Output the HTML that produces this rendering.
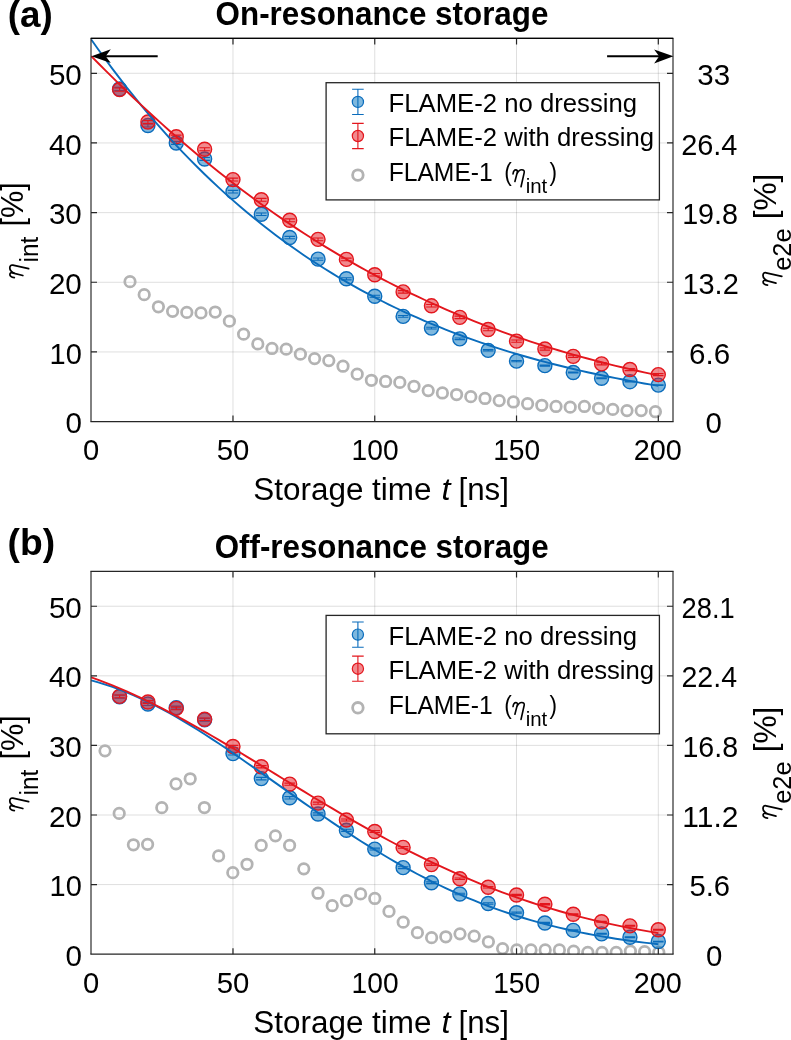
<!DOCTYPE html>
<html><head><meta charset="utf-8"><title>FLAME storage efficiency</title><style>html,body{margin:0;padding:0;background:#fff;width:791px;height:1040px;overflow:hidden}svg{display:block;will-change:transform}</style></head><body>
<svg width="791" height="1040" viewBox="0 0 791 1040" font-family="Liberation Sans" fill="#000">
<defs><clipPath id="ca"><rect x="91" y="38.45" width="582" height="383.15"/></clipPath></defs>
<path d="M232.98 38.45V421.6M374.75 38.45V421.6M516.53 38.45V421.6M658.3 38.45V421.6M91 351.94H673M91 282.27H673M91 212.61H673M91 142.95H673M91 73.28H673" stroke="rgba(38,38,38,0.15)" stroke-width="1" fill="none"/><g clip-path="url(#ca)"><circle cx="130" cy="281.65" r="5.25" fill="none" stroke="#b3b3b3" stroke-width="2.75"/><circle cx="144.2" cy="294.67" r="5.25" fill="none" stroke="#b3b3b3" stroke-width="2.75"/><circle cx="158.4" cy="306.79" r="5.25" fill="none" stroke="#b3b3b3" stroke-width="2.75"/><circle cx="172.6" cy="311.32" r="5.25" fill="none" stroke="#b3b3b3" stroke-width="2.75"/><circle cx="186.8" cy="312.44" r="5.25" fill="none" stroke="#b3b3b3" stroke-width="2.75"/><circle cx="201" cy="312.92" r="5.25" fill="none" stroke="#b3b3b3" stroke-width="2.75"/><circle cx="215.2" cy="312.02" r="5.25" fill="none" stroke="#b3b3b3" stroke-width="2.75"/><circle cx="229.4" cy="321.15" r="5.25" fill="none" stroke="#b3b3b3" stroke-width="2.75"/><circle cx="243.6" cy="334.17" r="5.25" fill="none" stroke="#b3b3b3" stroke-width="2.75"/><circle cx="257.8" cy="343.93" r="5.25" fill="none" stroke="#b3b3b3" stroke-width="2.75"/><circle cx="272" cy="348.45" r="5.25" fill="none" stroke="#b3b3b3" stroke-width="2.75"/><circle cx="286.2" cy="349.15" r="5.25" fill="none" stroke="#b3b3b3" stroke-width="2.75"/><circle cx="300.4" cy="354.17" r="5.25" fill="none" stroke="#b3b3b3" stroke-width="2.75"/><circle cx="314.6" cy="358.62" r="5.25" fill="none" stroke="#b3b3b3" stroke-width="2.75"/><circle cx="328.8" cy="360.57" r="5.25" fill="none" stroke="#b3b3b3" stroke-width="2.75"/><circle cx="343" cy="366.22" r="5.25" fill="none" stroke="#b3b3b3" stroke-width="2.75"/><circle cx="357.2" cy="374.16" r="5.25" fill="none" stroke="#b3b3b3" stroke-width="2.75"/><circle cx="371.4" cy="380.29" r="5.25" fill="none" stroke="#b3b3b3" stroke-width="2.75"/><circle cx="385.6" cy="381.47" r="5.25" fill="none" stroke="#b3b3b3" stroke-width="2.75"/><circle cx="399.8" cy="382.38" r="5.25" fill="none" stroke="#b3b3b3" stroke-width="2.75"/><circle cx="414" cy="386.28" r="5.25" fill="none" stroke="#b3b3b3" stroke-width="2.75"/><circle cx="428.2" cy="390.6" r="5.25" fill="none" stroke="#b3b3b3" stroke-width="2.75"/><circle cx="442.4" cy="392.97" r="5.25" fill="none" stroke="#b3b3b3" stroke-width="2.75"/><circle cx="456.6" cy="394.5" r="5.25" fill="none" stroke="#b3b3b3" stroke-width="2.75"/><circle cx="470.8" cy="396.66" r="5.25" fill="none" stroke="#b3b3b3" stroke-width="2.75"/><circle cx="485" cy="398.47" r="5.25" fill="none" stroke="#b3b3b3" stroke-width="2.75"/><circle cx="499.2" cy="400.56" r="5.25" fill="none" stroke="#b3b3b3" stroke-width="2.75"/><circle cx="513.4" cy="401.95" r="5.25" fill="none" stroke="#b3b3b3" stroke-width="2.75"/><circle cx="527.6" cy="403.7" r="5.25" fill="none" stroke="#b3b3b3" stroke-width="2.75"/><circle cx="541.8" cy="405.3" r="5.25" fill="none" stroke="#b3b3b3" stroke-width="2.75"/><circle cx="556" cy="406.48" r="5.25" fill="none" stroke="#b3b3b3" stroke-width="2.75"/><circle cx="570.2" cy="407.18" r="5.25" fill="none" stroke="#b3b3b3" stroke-width="2.75"/><circle cx="584.4" cy="406.48" r="5.25" fill="none" stroke="#b3b3b3" stroke-width="2.75"/><circle cx="598.6" cy="408.29" r="5.25" fill="none" stroke="#b3b3b3" stroke-width="2.75"/><circle cx="612.8" cy="409.41" r="5.25" fill="none" stroke="#b3b3b3" stroke-width="2.75"/><circle cx="627" cy="410.59" r="5.25" fill="none" stroke="#b3b3b3" stroke-width="2.75"/><circle cx="641.2" cy="410.59" r="5.25" fill="none" stroke="#b3b3b3" stroke-width="2.75"/><circle cx="655.4" cy="411.71" r="5.25" fill="none" stroke="#b3b3b3" stroke-width="2.75"/><circle cx="119.56" cy="88.96" r="7" fill="rgba(0,114,189,0.5)" stroke="#0a6cbc" stroke-width="1.4"/><path d="M114.26 87.36H124.86M114.26 90.56H124.86M119.56 87.36V90.56" stroke="#0a6cbc" stroke-width="1.1" fill="none"/><circle cx="147.91" cy="125.53" r="7" fill="rgba(0,114,189,0.5)" stroke="#0a6cbc" stroke-width="1.4"/><path d="M142.61 124H153.21M142.61 127.06H153.21M147.91 124V127.06" stroke="#0a6cbc" stroke-width="1.1" fill="none"/><circle cx="176.26" cy="142.95" r="7" fill="rgba(0,114,189,0.5)" stroke="#0a6cbc" stroke-width="1.4"/><path d="M170.96 141.48H181.56M170.96 144.41H181.56M176.26 141.48V144.41" stroke="#0a6cbc" stroke-width="1.1" fill="none"/><circle cx="204.62" cy="158.97" r="7" fill="rgba(0,114,189,0.5)" stroke="#0a6cbc" stroke-width="1.4"/><path d="M199.32 157.57H209.92M199.32 160.36H209.92M204.62 157.57V160.36" stroke="#0a6cbc" stroke-width="1.1" fill="none"/><circle cx="232.98" cy="191.71" r="7" fill="rgba(0,114,189,0.5)" stroke="#0a6cbc" stroke-width="1.4"/><path d="M227.68 190.38H238.28M227.68 193.04H238.28M232.98 190.38V193.04" stroke="#0a6cbc" stroke-width="1.1" fill="none"/><circle cx="261.33" cy="214.21" r="7" fill="rgba(0,114,189,0.5)" stroke="#0a6cbc" stroke-width="1.4"/><path d="M256.03 212.95H266.63M256.03 215.47H266.63M261.33 212.95V215.47" stroke="#0a6cbc" stroke-width="1.1" fill="none"/><circle cx="289.69" cy="237.55" r="7" fill="rgba(0,114,189,0.5)" stroke="#0a6cbc" stroke-width="1.4"/><path d="M284.38 236.36H294.99M284.38 238.74H294.99M289.69 236.36V238.74" stroke="#0a6cbc" stroke-width="1.1" fill="none"/><circle cx="318.04" cy="259.14" r="7" fill="rgba(0,114,189,0.5)" stroke="#0a6cbc" stroke-width="1.4"/><path d="M312.74 258.02H323.34M312.74 260.27H323.34M318.04 258.02V260.27" stroke="#0a6cbc" stroke-width="1.1" fill="none"/><circle cx="346.4" cy="278.79" r="7" fill="rgba(0,114,189,0.5)" stroke="#0a6cbc" stroke-width="1.4"/><path d="M341.1 277.74H351.7M341.1 279.84H351.7M346.4 277.74V279.84" stroke="#0a6cbc" stroke-width="1.1" fill="none"/><circle cx="374.75" cy="296.28" r="7" fill="rgba(0,114,189,0.5)" stroke="#0a6cbc" stroke-width="1.4"/><path d="M369.45 295.29H380.05M369.45 297.26H380.05M374.75 295.29V297.26" stroke="#0a6cbc" stroke-width="1.1" fill="none"/><circle cx="403.11" cy="316.41" r="7" fill="rgba(0,114,189,0.5)" stroke="#0a6cbc" stroke-width="1.4"/><path d="M397.81 315.49H408.41M397.81 317.32H408.41M403.11 315.49V317.32" stroke="#0a6cbc" stroke-width="1.1" fill="none"/><circle cx="431.46" cy="328.11" r="7" fill="rgba(0,114,189,0.5)" stroke="#0a6cbc" stroke-width="1.4"/><path d="M426.16 327.26H436.76M426.16 328.96H436.76M431.46 327.26V328.96" stroke="#0a6cbc" stroke-width="1.1" fill="none"/><circle cx="459.81" cy="338.84" r="7" fill="rgba(0,114,189,0.5)" stroke="#0a6cbc" stroke-width="1.4"/><path d="M454.51 338.06H465.12M454.51 339.62H465.12M459.81 338.06V339.62" stroke="#0a6cbc" stroke-width="1.1" fill="none"/><circle cx="488.17" cy="350.33" r="7" fill="rgba(0,114,189,0.5)" stroke="#0a6cbc" stroke-width="1.4"/><path d="M482.87 349.62H493.47M482.87 351.04H493.47M488.17 349.62V351.04" stroke="#0a6cbc" stroke-width="1.1" fill="none"/><circle cx="516.53" cy="361.13" r="7" fill="rgba(0,114,189,0.5)" stroke="#0a6cbc" stroke-width="1.4"/><path d="M511.23 360.49H521.83M511.23 361.77H521.83M516.53 360.49V361.77" stroke="#0a6cbc" stroke-width="1.1" fill="none"/><circle cx="544.88" cy="365.66" r="7" fill="rgba(0,114,189,0.5)" stroke="#0a6cbc" stroke-width="1.4"/><path d="M539.58 365.09H550.18M539.58 366.23H550.18M544.88 365.09V366.23" stroke="#0a6cbc" stroke-width="1.1" fill="none"/><circle cx="573.24" cy="372.56" r="7" fill="rgba(0,114,189,0.5)" stroke="#0a6cbc" stroke-width="1.4"/><path d="M567.94 372.05H578.53M567.94 373.06H578.53M573.24 372.05V373.06" stroke="#0a6cbc" stroke-width="1.1" fill="none"/><circle cx="601.59" cy="378.27" r="7" fill="rgba(0,114,189,0.5)" stroke="#0a6cbc" stroke-width="1.4"/><path d="M596.29 377.83H606.89M596.29 378.71H606.89M601.59 377.83V378.71" stroke="#0a6cbc" stroke-width="1.1" fill="none"/><circle cx="629.95" cy="381.68" r="7" fill="rgba(0,114,189,0.5)" stroke="#0a6cbc" stroke-width="1.4"/><path d="M624.65 381.31H635.25M624.65 382.05H635.25M629.95 381.31V382.05" stroke="#0a6cbc" stroke-width="1.1" fill="none"/><circle cx="658.3" cy="385.1" r="7" fill="rgba(0,114,189,0.5)" stroke="#0a6cbc" stroke-width="1.4"/><path d="M653 384.8H663.6M653 385.4H663.6M658.3 384.8V385.4" stroke="#0a6cbc" stroke-width="1.1" fill="none"/><circle cx="119.56" cy="89.58" r="7" fill="rgba(227,22,29,0.5)" stroke="#e3161d" stroke-width="1.4"/><path d="M114.26 87.98H124.86M114.26 91.18H124.86M119.56 87.98V91.18" stroke="#e3161d" stroke-width="1.1" fill="none"/><circle cx="147.91" cy="122.05" r="7" fill="rgba(227,22,29,0.5)" stroke="#e3161d" stroke-width="1.4"/><path d="M142.61 120.48H153.21M142.61 123.61H153.21M147.91 120.48V123.61" stroke="#e3161d" stroke-width="1.1" fill="none"/><circle cx="176.26" cy="136.68" r="7" fill="rgba(227,22,29,0.5)" stroke="#e3161d" stroke-width="1.4"/><path d="M170.96 135.14H181.56M170.96 138.21H181.56M176.26 135.14V138.21" stroke="#e3161d" stroke-width="1.1" fill="none"/><circle cx="204.62" cy="149.22" r="7" fill="rgba(227,22,29,0.5)" stroke="#e3161d" stroke-width="1.4"/><path d="M199.32 147.71H209.92M199.32 150.72H209.92M204.62 147.71V150.72" stroke="#e3161d" stroke-width="1.1" fill="none"/><circle cx="232.98" cy="179.59" r="7" fill="rgba(227,22,29,0.5)" stroke="#e3161d" stroke-width="1.4"/><path d="M227.68 178.11H238.28M227.68 181.06H238.28M232.98 178.11V181.06" stroke="#e3161d" stroke-width="1.1" fill="none"/><circle cx="261.33" cy="199.79" r="7" fill="rgba(227,22,29,0.5)" stroke="#e3161d" stroke-width="1.4"/><path d="M256.03 198.35H266.63M256.03 201.23H266.63M261.33 198.35V201.23" stroke="#e3161d" stroke-width="1.1" fill="none"/><circle cx="289.69" cy="220.27" r="7" fill="rgba(227,22,29,0.5)" stroke="#e3161d" stroke-width="1.4"/><path d="M284.38 218.86H294.99M284.38 221.68H294.99M289.69 218.86V221.68" stroke="#e3161d" stroke-width="1.1" fill="none"/><circle cx="318.04" cy="239.36" r="7" fill="rgba(227,22,29,0.5)" stroke="#e3161d" stroke-width="1.4"/><path d="M312.74 237.98H323.34M312.74 240.74H323.34M318.04 237.98V240.74" stroke="#e3161d" stroke-width="1.1" fill="none"/><circle cx="346.4" cy="259.42" r="7" fill="rgba(227,22,29,0.5)" stroke="#e3161d" stroke-width="1.4"/><path d="M341.1 258.08H351.7M341.1 260.77H351.7M346.4 258.08V260.77" stroke="#e3161d" stroke-width="1.1" fill="none"/><circle cx="374.75" cy="274.75" r="7" fill="rgba(227,22,29,0.5)" stroke="#e3161d" stroke-width="1.4"/><path d="M369.45 273.43H380.05M369.45 276.06H380.05M374.75 273.43V276.06" stroke="#e3161d" stroke-width="1.1" fill="none"/><circle cx="403.11" cy="291.89" r="7" fill="rgba(227,22,29,0.5)" stroke="#e3161d" stroke-width="1.4"/><path d="M397.81 290.6H408.41M397.81 293.17H408.41M403.11 290.6V293.17" stroke="#e3161d" stroke-width="1.1" fill="none"/><circle cx="431.46" cy="305.82" r="7" fill="rgba(227,22,29,0.5)" stroke="#e3161d" stroke-width="1.4"/><path d="M426.16 304.57H436.76M426.16 307.07H436.76M431.46 304.57V307.07" stroke="#e3161d" stroke-width="1.1" fill="none"/><circle cx="459.81" cy="317.38" r="7" fill="rgba(227,22,29,0.5)" stroke="#e3161d" stroke-width="1.4"/><path d="M454.51 316.16H465.12M454.51 318.6H465.12M459.81 316.16V318.6" stroke="#e3161d" stroke-width="1.1" fill="none"/><circle cx="488.17" cy="329.5" r="7" fill="rgba(227,22,29,0.5)" stroke="#e3161d" stroke-width="1.4"/><path d="M482.87 328.32H493.47M482.87 330.69H493.47M488.17 328.32V330.69" stroke="#e3161d" stroke-width="1.1" fill="none"/><circle cx="516.53" cy="341.14" r="7" fill="rgba(227,22,29,0.5)" stroke="#e3161d" stroke-width="1.4"/><path d="M511.23 339.98H521.83M511.23 342.3H521.83M516.53 339.98V342.3" stroke="#e3161d" stroke-width="1.1" fill="none"/><circle cx="544.88" cy="349.01" r="7" fill="rgba(227,22,29,0.5)" stroke="#e3161d" stroke-width="1.4"/><path d="M539.58 347.88H550.18M539.58 350.14H550.18M544.88 347.88V350.14" stroke="#e3161d" stroke-width="1.1" fill="none"/><circle cx="573.24" cy="356.33" r="7" fill="rgba(227,22,29,0.5)" stroke="#e3161d" stroke-width="1.4"/><path d="M567.94 355.23H578.53M567.94 357.42H578.53M573.24 355.23V357.42" stroke="#e3161d" stroke-width="1.1" fill="none"/><circle cx="601.59" cy="363.85" r="7" fill="rgba(227,22,29,0.5)" stroke="#e3161d" stroke-width="1.4"/><path d="M596.29 362.79H606.89M596.29 364.91H606.89M601.59 362.79V364.91" stroke="#e3161d" stroke-width="1.1" fill="none"/><circle cx="629.95" cy="369.56" r="7" fill="rgba(227,22,29,0.5)" stroke="#e3161d" stroke-width="1.4"/><path d="M624.65 368.53H635.25M624.65 370.59H635.25M629.95 368.53V370.59" stroke="#e3161d" stroke-width="1.1" fill="none"/><circle cx="658.3" cy="374.58" r="7" fill="rgba(227,22,29,0.5)" stroke="#e3161d" stroke-width="1.4"/><path d="M653 373.58H663.6M653 375.58H663.6M658.3 373.58V375.58" stroke="#e3161d" stroke-width="1.1" fill="none"/><path d="M91.2 39.43 L98.29 49.46 L105.38 59.26 L112.47 68.83 L119.56 78.17 L126.64 87.3 L133.73 96.2 L140.82 104.89 L147.91 113.37 L155 121.65 L162.09 129.72 L169.18 137.61 L176.26 145.29 L183.35 152.8 L190.44 160.11 L197.53 167.25 L204.62 174.21 L211.71 181 L218.8 187.62 L225.89 194.08 L232.98 200.38 L240.06 206.51 L247.15 212.5 L254.24 218.33 L261.33 224.01 L268.42 229.55 L275.51 234.95 L282.6 240.21 L289.69 245.34 L296.77 250.33 L303.86 255.19 L310.95 259.93 L318.04 264.55 L325.13 269.05 L332.22 273.42 L339.31 277.69 L346.4 281.84 L353.48 285.88 L360.57 289.82 L367.66 293.65 L374.75 297.38 L381.84 301.01 L388.93 304.54 L396.02 307.98 L403.11 311.32 L410.19 314.58 L417.28 317.74 L424.37 320.82 L431.46 323.82 L438.55 326.73 L445.64 329.57 L452.73 332.33 L459.81 335.01 L466.9 337.61 L473.99 340.15 L481.08 342.61 L488.17 345.01 L495.26 347.33 L502.35 349.6 L509.44 351.8 L516.53 353.93 L523.61 356.01 L530.7 358.03 L537.79 359.99 L544.88 361.89 L551.97 363.74 L559.06 365.54 L566.15 367.29 L573.24 368.98 L580.32 370.63 L587.41 372.23 L594.5 373.78 L601.59 375.28 L608.68 376.75 L615.77 378.17 L622.86 379.54 L629.95 380.88 L637.03 382.18 L644.12 383.44 L651.21 384.66 L658.3 385.85" stroke="#0a6cbc" stroke-width="1.9" fill="none"/><path d="M91.2 56.07 L98.29 63.29 L105.38 70.41 L112.47 77.44 L119.56 84.38 L126.64 91.23 L133.73 97.99 L140.82 104.66 L147.91 111.24 L155 117.73 L162.09 124.12 L169.18 130.43 L176.26 136.64 L183.35 142.77 L190.44 148.8 L197.53 154.74 L204.62 160.6 L211.71 166.36 L218.8 172.03 L225.89 177.61 L232.98 183.11 L240.06 188.51 L247.15 193.83 L254.24 199.06 L261.33 204.2 L268.42 209.26 L275.51 214.22 L282.6 219.11 L289.69 223.9 L296.77 228.62 L303.86 233.24 L310.95 237.79 L318.04 242.25 L325.13 246.63 L332.22 250.93 L339.31 255.15 L346.4 259.29 L353.48 263.34 L360.57 267.33 L367.66 271.23 L374.75 275.05 L381.84 278.81 L388.93 282.48 L396.02 286.08 L403.11 289.61 L410.19 293.06 L417.28 296.45 L424.37 299.76 L431.46 303 L438.55 306.18 L445.64 309.28 L452.73 312.32 L459.81 315.29 L466.9 318.2 L473.99 321.04 L481.08 323.82 L488.17 326.54 L495.26 329.19 L502.35 331.79 L509.44 334.32 L516.53 336.8 L523.61 339.21 L530.7 341.58 L537.79 343.88 L544.88 346.13 L551.97 348.33 L559.06 350.47 L566.15 352.56 L573.24 354.6 L580.32 356.59 L587.41 358.52 L594.5 360.41 L601.59 362.26 L608.68 364.05 L615.77 365.8 L622.86 367.51 L629.95 369.17 L637.03 370.78 L644.12 372.36 L651.21 373.89 L658.3 375.38" stroke="#e3161d" stroke-width="1.9" fill="none"/></g><path d="M232.98 421.6v-6M232.98 38.45v6M374.75 421.6v-6M374.75 38.45v6M516.53 421.6v-6M516.53 38.45v6M658.3 421.6v-6M658.3 38.45v6M91 351.94h6M673 351.94h-6M91 282.27h6M673 282.27h-6M91 212.61h6M673 212.61h-6M91 142.95h6M673 142.95h-6M91 73.28h6M673 73.28h-6" stroke="#262626" stroke-width="1.2" fill="none"/><path d="M90.4 38.45H673.6M90.4 421.6H673.6" stroke="#262626" stroke-width="1.3" fill="none"/><path d="M91 38.45V421.6M673 38.45V421.6" stroke="#262626" stroke-width="1.15" fill="none"/><path d="M91 38.45H673" stroke="#050505" stroke-width="1.2"/>
<rect x="326.1" y="82.7" width="333.3" height="117.2" fill="#fff" stroke="#262626" stroke-width="1.3"/><path d="M357.9 89.3V114.5M352.1 89.3H363.7M352.1 114.5H363.7" stroke="#0a6cbc" stroke-width="1.1" fill="none"/><circle cx="357.9" cy="101.9" r="5.6" fill="rgba(0,114,189,0.5)" stroke="#0a6cbc" stroke-width="1.2"/><path d="M357.9 123.4V148.6M352.1 123.4H363.7M352.1 148.6H363.7" stroke="#e3161d" stroke-width="1.1" fill="none"/><circle cx="357.9" cy="136" r="5.6" fill="rgba(227,22,29,0.5)" stroke="#e3161d" stroke-width="1.2"/><circle cx="357.9" cy="175.1" r="5.3" fill="none" stroke="#b3b3b3" stroke-width="2.8"/>
<path d="M105 56.2H157.7" stroke="#000" stroke-width="2"/><path d="M91.5 56.2 L110.8 49.2 L105.7 56.2 L110.8 63.1Z" fill="#000"/><path d="M607.1 56.2H660" stroke="#000" stroke-width="2"/><path d="M673.4 56.2 L654.1 49.6 L659.2 56.2 L654.1 63.5Z" fill="#000"/>
<defs><clipPath id="cb"><rect x="91" y="38.45" width="582" height="382.7"/></clipPath></defs>
<g transform="translate(0 533)">
<path d="M232.98 38.45V421.15M374.75 38.45V421.15M516.53 38.45V421.15M658.3 38.45V421.15M91 351.57H673M91 281.99H673M91 212.4H673M91 142.82H673M91 73.24H673" stroke="rgba(38,38,38,0.15)" stroke-width="1" fill="none"/><g clip-path="url(#cb)"><circle cx="105" cy="217.83" r="5.25" fill="none" stroke="#b3b3b3" stroke-width="2.75"/><circle cx="119.2" cy="280.39" r="5.25" fill="none" stroke="#b3b3b3" stroke-width="2.75"/><circle cx="133.4" cy="311.77" r="5.25" fill="none" stroke="#b3b3b3" stroke-width="2.75"/><circle cx="147.6" cy="311.35" r="5.25" fill="none" stroke="#b3b3b3" stroke-width="2.75"/><circle cx="161.8" cy="274.68" r="5.25" fill="none" stroke="#b3b3b3" stroke-width="2.75"/><circle cx="176" cy="250.81" r="5.25" fill="none" stroke="#b3b3b3" stroke-width="2.75"/><circle cx="190.2" cy="245.8" r="5.25" fill="none" stroke="#b3b3b3" stroke-width="2.75"/><circle cx="204.4" cy="274.54" r="5.25" fill="none" stroke="#b3b3b3" stroke-width="2.75"/><circle cx="218.6" cy="322.9" r="5.25" fill="none" stroke="#b3b3b3" stroke-width="2.75"/><circle cx="232.8" cy="339.67" r="5.25" fill="none" stroke="#b3b3b3" stroke-width="2.75"/><circle cx="247" cy="331.25" r="5.25" fill="none" stroke="#b3b3b3" stroke-width="2.75"/><circle cx="261.2" cy="312.39" r="5.25" fill="none" stroke="#b3b3b3" stroke-width="2.75"/><circle cx="275.4" cy="302.86" r="5.25" fill="none" stroke="#b3b3b3" stroke-width="2.75"/><circle cx="289.6" cy="312.39" r="5.25" fill="none" stroke="#b3b3b3" stroke-width="2.75"/><circle cx="303.8" cy="335.84" r="5.25" fill="none" stroke="#b3b3b3" stroke-width="2.75"/><circle cx="318" cy="360.2" r="5.25" fill="none" stroke="#b3b3b3" stroke-width="2.75"/><circle cx="332.2" cy="372.65" r="5.25" fill="none" stroke="#b3b3b3" stroke-width="2.75"/><circle cx="346.4" cy="367.64" r="5.25" fill="none" stroke="#b3b3b3" stroke-width="2.75"/><circle cx="360.6" cy="360.89" r="5.25" fill="none" stroke="#b3b3b3" stroke-width="2.75"/><circle cx="374.8" cy="365.48" r="5.25" fill="none" stroke="#b3b3b3" stroke-width="2.75"/><circle cx="389" cy="378.43" r="5.25" fill="none" stroke="#b3b3b3" stroke-width="2.75"/><circle cx="403.2" cy="389.14" r="5.25" fill="none" stroke="#b3b3b3" stroke-width="2.75"/><circle cx="417.4" cy="399.65" r="5.25" fill="none" stroke="#b3b3b3" stroke-width="2.75"/><circle cx="431.6" cy="404.66" r="5.25" fill="none" stroke="#b3b3b3" stroke-width="2.75"/><circle cx="445.8" cy="403.75" r="5.25" fill="none" stroke="#b3b3b3" stroke-width="2.75"/><circle cx="460" cy="400.83" r="5.25" fill="none" stroke="#b3b3b3" stroke-width="2.75"/><circle cx="474.2" cy="403.06" r="5.25" fill="none" stroke="#b3b3b3" stroke-width="2.75"/><circle cx="488.4" cy="408.76" r="5.25" fill="none" stroke="#b3b3b3" stroke-width="2.75"/><circle cx="502.6" cy="415.58" r="5.25" fill="none" stroke="#b3b3b3" stroke-width="2.75"/><circle cx="516.8" cy="416.98" r="5.25" fill="none" stroke="#b3b3b3" stroke-width="2.75"/><circle cx="531" cy="416.98" r="5.25" fill="none" stroke="#b3b3b3" stroke-width="2.75"/><circle cx="545.2" cy="416.98" r="5.25" fill="none" stroke="#b3b3b3" stroke-width="2.75"/><circle cx="559.4" cy="416.98" r="5.25" fill="none" stroke="#b3b3b3" stroke-width="2.75"/><circle cx="573.6" cy="418.16" r="5.25" fill="none" stroke="#b3b3b3" stroke-width="2.75"/><circle cx="587.8" cy="419.34" r="5.25" fill="none" stroke="#b3b3b3" stroke-width="2.75"/><circle cx="602" cy="419.34" r="5.25" fill="none" stroke="#b3b3b3" stroke-width="2.75"/><circle cx="616.2" cy="419.34" r="5.25" fill="none" stroke="#b3b3b3" stroke-width="2.75"/><circle cx="630.4" cy="418.23" r="5.25" fill="none" stroke="#b3b3b3" stroke-width="2.75"/><circle cx="644.6" cy="418.71" r="5.25" fill="none" stroke="#b3b3b3" stroke-width="2.75"/><circle cx="658.8" cy="419.34" r="5.25" fill="none" stroke="#b3b3b3" stroke-width="2.75"/><circle cx="119.56" cy="163.7" r="7" fill="rgba(0,114,189,0.5)" stroke="#0a6cbc" stroke-width="1.4"/><path d="M114.26 162.1H124.86M114.26 165.3H124.86M119.56 162.1V165.3" stroke="#0a6cbc" stroke-width="1.1" fill="none"/><circle cx="147.91" cy="171" r="7" fill="rgba(0,114,189,0.5)" stroke="#0a6cbc" stroke-width="1.4"/><path d="M142.61 169.47H153.21M142.61 172.53H153.21M147.91 169.47V172.53" stroke="#0a6cbc" stroke-width="1.1" fill="none"/><circle cx="176.26" cy="174.62" r="7" fill="rgba(0,114,189,0.5)" stroke="#0a6cbc" stroke-width="1.4"/><path d="M170.96 173.16H181.56M170.96 176.08H181.56M176.26 173.16V176.08" stroke="#0a6cbc" stroke-width="1.1" fill="none"/><circle cx="204.62" cy="186.8" r="7" fill="rgba(0,114,189,0.5)" stroke="#0a6cbc" stroke-width="1.4"/><path d="M199.32 185.4H209.92M199.32 188.19H209.92M204.62 185.4V188.19" stroke="#0a6cbc" stroke-width="1.1" fill="none"/><circle cx="232.98" cy="220.62" r="7" fill="rgba(0,114,189,0.5)" stroke="#0a6cbc" stroke-width="1.4"/><path d="M227.68 219.29H238.28M227.68 221.94H238.28M232.98 219.29V221.94" stroke="#0a6cbc" stroke-width="1.1" fill="none"/><circle cx="261.33" cy="245.6" r="7" fill="rgba(0,114,189,0.5)" stroke="#0a6cbc" stroke-width="1.4"/><path d="M256.03 244.34H266.63M256.03 246.85H266.63M261.33 244.34V246.85" stroke="#0a6cbc" stroke-width="1.1" fill="none"/><circle cx="289.69" cy="264.8" r="7" fill="rgba(0,114,189,0.5)" stroke="#0a6cbc" stroke-width="1.4"/><path d="M284.38 263.61H294.99M284.38 265.99H294.99M289.69 263.61V265.99" stroke="#0a6cbc" stroke-width="1.1" fill="none"/><circle cx="318.04" cy="281.01" r="7" fill="rgba(0,114,189,0.5)" stroke="#0a6cbc" stroke-width="1.4"/><path d="M312.74 279.89H323.34M312.74 282.13H323.34M318.04 279.89V282.13" stroke="#0a6cbc" stroke-width="1.1" fill="none"/><circle cx="346.4" cy="297.29" r="7" fill="rgba(0,114,189,0.5)" stroke="#0a6cbc" stroke-width="1.4"/><path d="M341.1 296.24H351.7M341.1 298.35H351.7M346.4 296.24V298.35" stroke="#0a6cbc" stroke-width="1.1" fill="none"/><circle cx="374.75" cy="316.08" r="7" fill="rgba(0,114,189,0.5)" stroke="#0a6cbc" stroke-width="1.4"/><path d="M369.45 315.1H380.05M369.45 317.07H380.05M374.75 315.1V317.07" stroke="#0a6cbc" stroke-width="1.1" fill="none"/><circle cx="403.11" cy="334.66" r="7" fill="rgba(0,114,189,0.5)" stroke="#0a6cbc" stroke-width="1.4"/><path d="M397.81 333.74H408.41M397.81 335.58H408.41M403.11 333.74V335.58" stroke="#0a6cbc" stroke-width="1.1" fill="none"/><circle cx="431.46" cy="349.76" r="7" fill="rgba(0,114,189,0.5)" stroke="#0a6cbc" stroke-width="1.4"/><path d="M426.16 348.91H436.76M426.16 350.61H436.76M431.46 348.91V350.61" stroke="#0a6cbc" stroke-width="1.1" fill="none"/><circle cx="459.81" cy="360.96" r="7" fill="rgba(0,114,189,0.5)" stroke="#0a6cbc" stroke-width="1.4"/><path d="M454.51 360.18H465.12M454.51 361.74H465.12M459.81 360.18V361.74" stroke="#0a6cbc" stroke-width="1.1" fill="none"/><circle cx="488.17" cy="370.49" r="7" fill="rgba(0,114,189,0.5)" stroke="#0a6cbc" stroke-width="1.4"/><path d="M482.87 369.78H493.47M482.87 371.2H493.47M488.17 369.78V371.2" stroke="#0a6cbc" stroke-width="1.1" fill="none"/><circle cx="516.53" cy="379.68" r="7" fill="rgba(0,114,189,0.5)" stroke="#0a6cbc" stroke-width="1.4"/><path d="M511.23 379.04H521.83M511.23 380.32H521.83M516.53 379.04V380.32" stroke="#0a6cbc" stroke-width="1.1" fill="none"/><circle cx="544.88" cy="389.98" r="7" fill="rgba(0,114,189,0.5)" stroke="#0a6cbc" stroke-width="1.4"/><path d="M539.58 389.4H550.18M539.58 390.55H550.18M544.88 389.4V390.55" stroke="#0a6cbc" stroke-width="1.1" fill="none"/><circle cx="573.24" cy="397.42" r="7" fill="rgba(0,114,189,0.5)" stroke="#0a6cbc" stroke-width="1.4"/><path d="M567.94 396.92H578.53M567.94 397.93H578.53M573.24 396.92V397.93" stroke="#0a6cbc" stroke-width="1.1" fill="none"/><circle cx="601.59" cy="400.83" r="7" fill="rgba(0,114,189,0.5)" stroke="#0a6cbc" stroke-width="1.4"/><path d="M596.29 400.4H606.89M596.29 401.27H606.89M601.59 400.4V401.27" stroke="#0a6cbc" stroke-width="1.1" fill="none"/><circle cx="629.95" cy="404.24" r="7" fill="rgba(0,114,189,0.5)" stroke="#0a6cbc" stroke-width="1.4"/><path d="M624.65 403.87H635.25M624.65 404.61H635.25M629.95 403.87V404.61" stroke="#0a6cbc" stroke-width="1.1" fill="none"/><circle cx="658.3" cy="408.56" r="7" fill="rgba(0,114,189,0.5)" stroke="#0a6cbc" stroke-width="1.4"/><path d="M653 408.26H663.6M653 408.86H663.6M658.3 408.26V408.86" stroke="#0a6cbc" stroke-width="1.1" fill="none"/><circle cx="119.56" cy="163.35" r="7" fill="rgba(227,22,29,0.5)" stroke="#e3161d" stroke-width="1.4"/><path d="M114.26 161.95H124.86M114.26 164.75H124.86M119.56 161.95V164.75" stroke="#e3161d" stroke-width="1.1" fill="none"/><circle cx="147.91" cy="168.99" r="7" fill="rgba(227,22,29,0.5)" stroke="#e3161d" stroke-width="1.4"/><path d="M142.61 167.64H153.21M142.61 170.33H153.21M147.91 167.64V170.33" stroke="#e3161d" stroke-width="1.1" fill="none"/><circle cx="176.26" cy="175.39" r="7" fill="rgba(227,22,29,0.5)" stroke="#e3161d" stroke-width="1.4"/><path d="M170.96 174.09H181.56M170.96 176.68H181.56M176.26 174.09V176.68" stroke="#e3161d" stroke-width="1.1" fill="none"/><circle cx="204.62" cy="186.24" r="7" fill="rgba(227,22,29,0.5)" stroke="#e3161d" stroke-width="1.4"/><path d="M199.32 185H209.92M199.32 187.48H209.92M204.62 185V187.48" stroke="#e3161d" stroke-width="1.1" fill="none"/><circle cx="232.98" cy="213.52" r="7" fill="rgba(227,22,29,0.5)" stroke="#e3161d" stroke-width="1.4"/><path d="M227.68 212.33H238.28M227.68 214.71H238.28M232.98 212.33V214.71" stroke="#e3161d" stroke-width="1.1" fill="none"/><circle cx="261.33" cy="233.77" r="7" fill="rgba(227,22,29,0.5)" stroke="#e3161d" stroke-width="1.4"/><path d="M256.03 232.63H266.63M256.03 234.9H266.63M261.33 232.63V234.9" stroke="#e3161d" stroke-width="1.1" fill="none"/><circle cx="289.69" cy="251.16" r="7" fill="rgba(227,22,29,0.5)" stroke="#e3161d" stroke-width="1.4"/><path d="M284.38 250.08H294.99M284.38 252.25H294.99M289.69 250.08V252.25" stroke="#e3161d" stroke-width="1.1" fill="none"/><circle cx="318.04" cy="270.16" r="7" fill="rgba(227,22,29,0.5)" stroke="#e3161d" stroke-width="1.4"/><path d="M312.74 269.13H323.34M312.74 271.19H323.34M318.04 269.13V271.19" stroke="#e3161d" stroke-width="1.1" fill="none"/><circle cx="346.4" cy="287" r="7" fill="rgba(227,22,29,0.5)" stroke="#e3161d" stroke-width="1.4"/><path d="M341.1 286.02H351.7M341.1 287.98H351.7M346.4 286.02V287.98" stroke="#e3161d" stroke-width="1.1" fill="none"/><circle cx="374.75" cy="298.48" r="7" fill="rgba(227,22,29,0.5)" stroke="#e3161d" stroke-width="1.4"/><path d="M369.45 297.55H380.05M369.45 299.4H380.05M374.75 297.55V299.4" stroke="#e3161d" stroke-width="1.1" fill="none"/><circle cx="403.11" cy="314.41" r="7" fill="rgba(227,22,29,0.5)" stroke="#e3161d" stroke-width="1.4"/><path d="M397.81 313.54H408.41M397.81 315.29H408.41M403.11 313.54V315.29" stroke="#e3161d" stroke-width="1.1" fill="none"/><circle cx="431.46" cy="331.6" r="7" fill="rgba(227,22,29,0.5)" stroke="#e3161d" stroke-width="1.4"/><path d="M426.16 330.78H436.76M426.16 332.42H436.76M431.46 330.78V332.42" stroke="#e3161d" stroke-width="1.1" fill="none"/><circle cx="459.81" cy="345.79" r="7" fill="rgba(227,22,29,0.5)" stroke="#e3161d" stroke-width="1.4"/><path d="M454.51 345.02H465.12M454.51 346.56H465.12M459.81 345.02V346.56" stroke="#e3161d" stroke-width="1.1" fill="none"/><circle cx="488.17" cy="354.28" r="7" fill="rgba(227,22,29,0.5)" stroke="#e3161d" stroke-width="1.4"/><path d="M482.87 353.57H493.47M482.87 355H493.47M488.17 353.57V355" stroke="#e3161d" stroke-width="1.1" fill="none"/><circle cx="516.53" cy="362.01" r="7" fill="rgba(227,22,29,0.5)" stroke="#e3161d" stroke-width="1.4"/><path d="M511.23 361.34H521.83M511.23 362.67H521.83M516.53 361.34V362.67" stroke="#e3161d" stroke-width="1.1" fill="none"/><circle cx="544.88" cy="371.26" r="7" fill="rgba(227,22,29,0.5)" stroke="#e3161d" stroke-width="1.4"/><path d="M539.58 370.65H550.18M539.58 371.87H550.18M544.88 370.65V371.87" stroke="#e3161d" stroke-width="1.1" fill="none"/><circle cx="573.24" cy="381.28" r="7" fill="rgba(227,22,29,0.5)" stroke="#e3161d" stroke-width="1.4"/><path d="M567.94 380.72H578.53M567.94 381.84H578.53M573.24 380.72V381.84" stroke="#e3161d" stroke-width="1.1" fill="none"/><circle cx="601.59" cy="388.72" r="7" fill="rgba(227,22,29,0.5)" stroke="#e3161d" stroke-width="1.4"/><path d="M596.29 388.22H606.89M596.29 389.23H606.89M601.59 388.22V389.23" stroke="#e3161d" stroke-width="1.1" fill="none"/><circle cx="629.95" cy="392.83" r="7" fill="rgba(227,22,29,0.5)" stroke="#e3161d" stroke-width="1.4"/><path d="M624.65 392.38H635.25M624.65 393.28H635.25M629.95 392.38V393.28" stroke="#e3161d" stroke-width="1.1" fill="none"/><circle cx="658.3" cy="396.73" r="7" fill="rgba(227,22,29,0.5)" stroke="#e3161d" stroke-width="1.4"/><path d="M653 396.33H663.6M653 397.13H663.6M658.3 396.33V397.13" stroke="#e3161d" stroke-width="1.1" fill="none"/><path d="M91.2 147.42 L98.29 149.38 L105.38 151.56 L112.47 153.96 L119.56 156.57 L126.64 159.37 L133.73 162.38 L140.82 165.56 L147.91 168.93 L155 172.47 L162.09 176.18 L169.18 180.03 L176.26 184.03 L183.35 188.17 L190.44 192.43 L197.53 196.81 L204.62 201.3 L211.71 205.88 L218.8 210.55 L225.89 215.3 L232.98 220.11 L240.06 224.99 L247.15 229.91 L254.24 234.86 L261.33 239.85 L268.42 244.86 L275.51 249.87 L282.6 254.89 L289.69 259.9 L296.77 264.9 L303.86 269.87 L310.95 274.81 L318.04 279.71 L325.13 284.56 L332.22 289.37 L339.31 294.11 L346.4 298.79 L353.48 303.4 L360.57 307.93 L367.66 312.39 L374.75 316.76 L381.84 321.04 L388.93 325.23 L396.02 329.32 L403.11 333.31 L410.19 337.2 L417.28 340.99 L424.37 344.68 L431.46 348.26 L438.55 351.73 L445.64 355.09 L452.73 358.35 L459.81 361.5 L466.9 364.53 L473.99 367.46 L481.08 370.28 L488.17 373 L495.26 375.61 L502.35 378.12 L509.44 380.52 L516.53 382.82 L523.61 385.02 L530.7 387.13 L537.79 389.14 L544.88 391.06 L551.97 392.89 L559.06 394.63 L566.15 396.28 L573.24 397.85 L580.32 399.34 L587.41 400.76 L594.5 402.09 L601.59 403.36 L608.68 404.56 L615.77 405.69 L622.86 406.75 L629.95 407.75 L637.03 408.7 L644.12 409.58 L651.21 410.42 L658.3 411.2" stroke="#0a6cbc" stroke-width="1.9" fill="none"/><path d="M91.2 144.35 L98.29 146.91 L105.38 149.61 L112.47 152.43 L119.56 155.38 L126.64 158.45 L133.73 161.63 L140.82 164.92 L147.91 168.32 L155 171.82 L162.09 175.41 L169.18 179.1 L176.26 182.86 L183.35 186.7 L190.44 190.62 L197.53 194.6 L204.62 198.64 L211.71 202.73 L218.8 206.88 L225.89 211.07 L232.98 215.29 L240.06 219.55 L247.15 223.83 L254.24 228.14 L261.33 232.46 L268.42 236.79 L275.51 241.13 L282.6 245.47 L289.69 249.8 L296.77 254.12 L303.86 258.43 L310.95 262.71 L318.04 266.98 L325.13 271.22 L332.22 275.42 L339.31 279.59 L346.4 283.72 L353.48 287.81 L360.57 291.85 L367.66 295.84 L374.75 299.78 L381.84 303.66 L388.93 307.48 L396.02 311.25 L403.11 314.95 L410.19 318.58 L417.28 322.15 L424.37 325.65 L431.46 329.08 L438.55 332.44 L445.64 335.72 L452.73 338.93 L459.81 342.07 L466.9 345.13 L473.99 348.12 L481.08 351.03 L488.17 353.86 L495.26 356.61 L502.35 359.29 L509.44 361.89 L516.53 364.42 L523.61 366.86 L530.7 369.24 L537.79 371.54 L544.88 373.76 L551.97 375.91 L559.06 377.99 L566.15 379.99 L573.24 381.93 L580.32 383.8 L587.41 385.6 L594.5 387.33 L601.59 388.99 L608.68 390.59 L615.77 392.13 L622.86 393.61 L629.95 395.03 L637.03 396.39 L644.12 397.69 L651.21 398.93 L658.3 400.13" stroke="#e3161d" stroke-width="1.9" fill="none"/></g><path d="M232.98 421.15v-6M232.98 38.45v6M374.75 421.15v-6M374.75 38.45v6M516.53 421.15v-6M516.53 38.45v6M658.3 421.15v-6M658.3 38.45v6M91 351.57h6M673 351.57h-6M91 281.99h6M673 281.99h-6M91 212.4h6M673 212.4h-6M91 142.82h6M673 142.82h-6M91 73.24h6M673 73.24h-6" stroke="#262626" stroke-width="1.2" fill="none"/><path d="M90.4 38.45H673.6M90.4 421.15H673.6" stroke="#262626" stroke-width="1.3" fill="none"/><path d="M91 38.45V421.15M673 38.45V421.15" stroke="#262626" stroke-width="1.15" fill="none"/>
<rect x="326.1" y="82.4" width="333.3" height="118.4" fill="#fff" stroke="#262626" stroke-width="1.3"/><path d="M357.9 89V114.2M352.1 89H363.7M352.1 114.2H363.7" stroke="#0a6cbc" stroke-width="1.1" fill="none"/><circle cx="357.9" cy="101.6" r="5.6" fill="rgba(0,114,189,0.5)" stroke="#0a6cbc" stroke-width="1.2"/><path d="M357.9 123.1V148.3M352.1 123.1H363.7M352.1 148.3H363.7" stroke="#e3161d" stroke-width="1.1" fill="none"/><circle cx="357.9" cy="135.7" r="5.6" fill="rgba(227,22,29,0.5)" stroke="#e3161d" stroke-width="1.2"/><circle cx="357.9" cy="174.8" r="5.3" fill="none" stroke="#b3b3b3" stroke-width="2.8"/>
</g>
<text x="83.03" y="460.2" font-size="30" textLength="16.23" lengthAdjust="spacingAndGlyphs">0</text><text x="216.68" y="460.2" font-size="30" textLength="32.62" lengthAdjust="spacingAndGlyphs">50</text><text x="351.59" y="460.2" font-size="30" textLength="47" lengthAdjust="spacingAndGlyphs">100</text><text x="493.19" y="460.2" font-size="30" textLength="47" lengthAdjust="spacingAndGlyphs">150</text><text x="633.76" y="460.2" font-size="30" textLength="48.05" lengthAdjust="spacingAndGlyphs">200</text><text x="65.43" y="433.25" font-size="30" textLength="16.44" lengthAdjust="spacingAndGlyphs">0</text><text x="49.53" y="363.59" font-size="30" textLength="32.26" lengthAdjust="spacingAndGlyphs">10</text><text x="48.93" y="293.92" font-size="30" textLength="32.87" lengthAdjust="spacingAndGlyphs">20</text><text x="48.93" y="224.26" font-size="30" textLength="32.87" lengthAdjust="spacingAndGlyphs">30</text><text x="48.93" y="154.6" font-size="30" textLength="32.87" lengthAdjust="spacingAndGlyphs">40</text><text x="48.93" y="84.93" font-size="30" textLength="32.87" lengthAdjust="spacingAndGlyphs">50</text><text x="705.62" y="433.25" font-size="30" textLength="16.34" lengthAdjust="spacingAndGlyphs">0</text><text x="689.12" y="363.59" font-size="30" textLength="41.07" lengthAdjust="spacingAndGlyphs">6.6</text><text x="682.43" y="293.92" font-size="30" textLength="56.31" lengthAdjust="spacingAndGlyphs">13.2</text><text x="682.14" y="224.26" font-size="30" textLength="55.95" lengthAdjust="spacingAndGlyphs">19.8</text><text x="681.15" y="154.6" font-size="30" textLength="56.31" lengthAdjust="spacingAndGlyphs">26.4</text><text x="697.27" y="84.93" font-size="30" textLength="32.83" lengthAdjust="spacingAndGlyphs">33</text><text x="253.38" y="500.4" font-size="31" textLength="178.09" lengthAdjust="spacingAndGlyphs">Storage time</text><text x="441.49" y="500.4" font-size="31" font-style="italic" textLength="9.02" lengthAdjust="spacingAndGlyphs">t</text><text x="458.48" y="500.4" font-size="31" textLength="50.51" lengthAdjust="spacingAndGlyphs">[ns]</text><text x="215.61" y="25" font-size="33" font-weight="bold" textLength="332.76" lengthAdjust="spacingAndGlyphs">On-resonance storage</text><text x="7.84" y="26.6" font-size="36.6" font-weight="bold" textLength="45" lengthAdjust="spacingAndGlyphs">(a)</text><text x="388.55" y="111.9" font-size="26.4" textLength="248.55" lengthAdjust="spacingAndGlyphs">FLAME-2 no dressing</text><text x="388.55" y="145.8" font-size="26.4" textLength="265.63" lengthAdjust="spacingAndGlyphs">FLAME-2 with dressing</text><text x="388.63" y="181.4" font-size="26.4" textLength="104.12" lengthAdjust="spacingAndGlyphs">FLAME-1</text><text x="504.21" y="181.4" font-size="26.4" textLength="7.54" lengthAdjust="spacingAndGlyphs">(</text><text x="549.39" y="181.4" font-size="26.4" textLength="7.54" lengthAdjust="spacingAndGlyphs">)</text><text x="525.65" y="193.1" font-size="20.5" textLength="21.6" lengthAdjust="spacingAndGlyphs">int</text><text x="83.03" y="992.75" font-size="30" textLength="16.23" lengthAdjust="spacingAndGlyphs">0</text><text x="216.68" y="992.75" font-size="30" textLength="32.62" lengthAdjust="spacingAndGlyphs">50</text><text x="351.59" y="992.75" font-size="30" textLength="47" lengthAdjust="spacingAndGlyphs">100</text><text x="493.19" y="992.75" font-size="30" textLength="47" lengthAdjust="spacingAndGlyphs">150</text><text x="633.76" y="992.75" font-size="30" textLength="48.05" lengthAdjust="spacingAndGlyphs">200</text><text x="65.43" y="965.8" font-size="30" textLength="16.44" lengthAdjust="spacingAndGlyphs">0</text><text x="49.53" y="896.22" font-size="30" textLength="32.26" lengthAdjust="spacingAndGlyphs">10</text><text x="48.93" y="826.64" font-size="30" textLength="32.87" lengthAdjust="spacingAndGlyphs">20</text><text x="48.93" y="757.05" font-size="30" textLength="32.87" lengthAdjust="spacingAndGlyphs">30</text><text x="48.93" y="687.47" font-size="30" textLength="32.87" lengthAdjust="spacingAndGlyphs">40</text><text x="48.93" y="617.89" font-size="30" textLength="32.87" lengthAdjust="spacingAndGlyphs">50</text><text x="706.02" y="965.8" font-size="30" textLength="16.34" lengthAdjust="spacingAndGlyphs">0</text><text x="689.48" y="896.22" font-size="30" textLength="40.59" lengthAdjust="spacingAndGlyphs">5.6</text><text x="682.35" y="826.64" font-size="30" textLength="56.06" lengthAdjust="spacingAndGlyphs">11.2</text><text x="682.46" y="757.05" font-size="30" textLength="55.63" lengthAdjust="spacingAndGlyphs">16.8</text><text x="681.47" y="687.47" font-size="30" textLength="55.58" lengthAdjust="spacingAndGlyphs">22.4</text><text x="681.54" y="617.89" font-size="30" textLength="53.13" lengthAdjust="spacingAndGlyphs">28.1</text><text x="253.38" y="1033.4" font-size="31" textLength="178.09" lengthAdjust="spacingAndGlyphs">Storage time</text><text x="441.49" y="1033.4" font-size="31" font-style="italic" textLength="9.02" lengthAdjust="spacingAndGlyphs">t</text><text x="458.48" y="1033.4" font-size="31" textLength="50.51" lengthAdjust="spacingAndGlyphs">[ns]</text><text x="214.71" y="557.6" font-size="33" font-weight="bold" textLength="333.92" lengthAdjust="spacingAndGlyphs">Off-resonance storage</text><text x="7.62" y="555.3" font-size="36.6" font-weight="bold" textLength="47.54" lengthAdjust="spacingAndGlyphs">(b)</text><text x="388.55" y="644.6" font-size="26.4" textLength="248.55" lengthAdjust="spacingAndGlyphs">FLAME-2 no dressing</text><text x="388.55" y="678.5" font-size="26.4" textLength="265.63" lengthAdjust="spacingAndGlyphs">FLAME-2 with dressing</text><text x="388.63" y="714.1" font-size="26.4" textLength="104.12" lengthAdjust="spacingAndGlyphs">FLAME-1</text><text x="504.21" y="714.1" font-size="26.4" textLength="7.54" lengthAdjust="spacingAndGlyphs">(</text><text x="549.39" y="714.1" font-size="26.4" textLength="7.54" lengthAdjust="spacingAndGlyphs">)</text><text x="525.65" y="725.8" font-size="20.5" textLength="21.6" lengthAdjust="spacingAndGlyphs">int</text>
<path transform="translate(512.4 181.4) scale(0.9)" d="M0.7 -8.4C1.1 -11 2.2 -12.8 3.8 -12.8C5.2 -12.8 5.8 -11.9 5.5 -10.4L2.8 0.1M4.9 -7.9C6.3 -11.3 8.2 -12.9 10.4 -12.9C12.6 -12.9 13.5 -11.7 13.1 -9.8L9.6 5.9" fill="none" stroke="#000" stroke-width="1.79" stroke-linecap="round" stroke-linejoin="round"/>
<path transform="translate(512.4 714.1) scale(0.9)" d="M0.7 -8.4C1.1 -11 2.2 -12.8 3.8 -12.8C5.2 -12.8 5.8 -11.9 5.5 -10.4L2.8 0.1M4.9 -7.9C6.3 -11.3 8.2 -12.9 10.4 -12.9C12.6 -12.9 13.5 -11.7 13.1 -9.8L9.6 5.9" fill="none" stroke="#000" stroke-width="1.79" stroke-linecap="round" stroke-linejoin="round"/>
<path transform="translate(22.7 278.3) rotate(-90)" d="M0.7 -8.4C1.1 -11 2.2 -12.8 3.8 -12.8C5.2 -12.8 5.8 -11.9 5.5 -10.4L2.8 0.1M4.9 -7.9C6.3 -11.3 8.2 -12.9 10.4 -12.9C12.6 -12.9 13.5 -11.7 13.1 -9.8L9.6 5.9" fill="none" stroke="#000" stroke-width="1.75" stroke-linecap="round" stroke-linejoin="round"/><g transform="translate(22.7 278.3) rotate(-90)"><text x="15.83" y="14.9" font-size="25" textLength="25.82" lengthAdjust="spacingAndGlyphs">int</text><text x="51.7" y="0.6" font-size="30.8" textLength="44.39" lengthAdjust="spacingAndGlyphs">[%]</text></g>
<path transform="translate(775.9 285.9) rotate(-90)" d="M0.7 -8.4C1.1 -11 2.2 -12.8 3.8 -12.8C5.2 -12.8 5.8 -11.9 5.5 -10.4L2.8 0.1M4.9 -7.9C6.3 -11.3 8.2 -12.9 10.4 -12.9C12.6 -12.9 13.5 -11.7 13.1 -9.8L9.6 5.9" fill="none" stroke="#000" stroke-width="1.75" stroke-linecap="round" stroke-linejoin="round"/><g transform="translate(775.9 285.9) rotate(-90)"><text x="15.08" y="14.9" font-size="25" textLength="42.4" lengthAdjust="spacingAndGlyphs">e2e</text><text x="66.55" y="-0.3" font-size="30.8" textLength="45.59" lengthAdjust="spacingAndGlyphs">[%]</text></g>
<path transform="translate(22.7 811.3) rotate(-90)" d="M0.7 -8.4C1.1 -11 2.2 -12.8 3.8 -12.8C5.2 -12.8 5.8 -11.9 5.5 -10.4L2.8 0.1M4.9 -7.9C6.3 -11.3 8.2 -12.9 10.4 -12.9C12.6 -12.9 13.5 -11.7 13.1 -9.8L9.6 5.9" fill="none" stroke="#000" stroke-width="1.75" stroke-linecap="round" stroke-linejoin="round"/><g transform="translate(22.7 811.3) rotate(-90)"><text x="15.83" y="14.9" font-size="25" textLength="25.82" lengthAdjust="spacingAndGlyphs">int</text><text x="51.7" y="0.6" font-size="30.8" textLength="44.39" lengthAdjust="spacingAndGlyphs">[%]</text></g>
<path transform="translate(775.9 818.9) rotate(-90)" d="M0.7 -8.4C1.1 -11 2.2 -12.8 3.8 -12.8C5.2 -12.8 5.8 -11.9 5.5 -10.4L2.8 0.1M4.9 -7.9C6.3 -11.3 8.2 -12.9 10.4 -12.9C12.6 -12.9 13.5 -11.7 13.1 -9.8L9.6 5.9" fill="none" stroke="#000" stroke-width="1.75" stroke-linecap="round" stroke-linejoin="round"/><g transform="translate(775.9 818.9) rotate(-90)"><text x="15.08" y="14.9" font-size="25" textLength="42.4" lengthAdjust="spacingAndGlyphs">e2e</text><text x="66.55" y="-0.3" font-size="30.8" textLength="45.59" lengthAdjust="spacingAndGlyphs">[%]</text></g>
</svg>
</body></html>
